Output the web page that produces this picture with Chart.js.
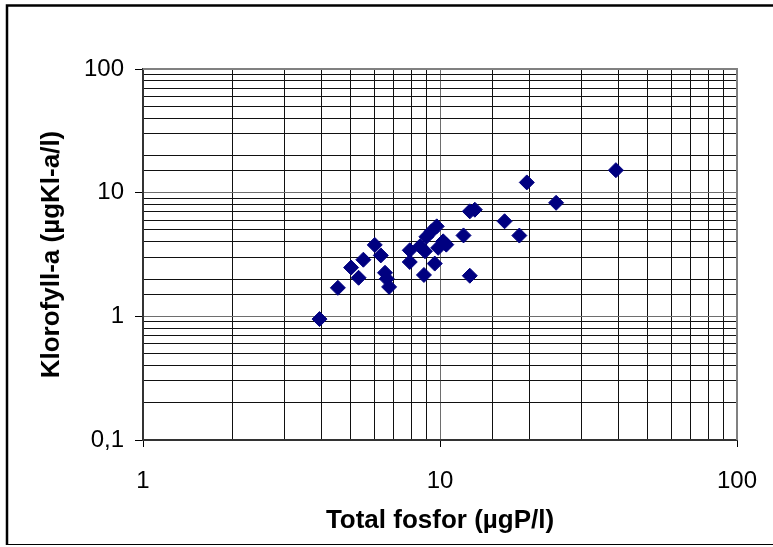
<!DOCTYPE html>
<html>
<head>
<meta charset="utf-8">
<script src="https://cdn.jsdelivr.net/npm/chart.js@4/dist/chart.umd.min.js"></script>
<style>
  body { margin: 0; background: #fff; }
</style>
</head>
<body>
<canvas id="scatterChart" width="773" height="547"></canvas>
<script>
// Total fosfor (x) og klorofyll-a (y), lest av figuren
const totalFosfor = [3.93, 4.53, 5.02, 5.32, 5.52, 6.03, 6.32, 6.53, 6.62, 6.74,
    7.91, 7.91, 8.56, 8.9, 9.0, 9.37, 9.75, 9.86, 10.25, 10.5,
    9.6, 8.83, 12.0, 12.6, 13.1, 12.6, 16.5, 18.5, 19.6, 24.6, 39.1];
const klorofyll = [0.95, 1.70, 2.48, 2.05, 2.87, 3.78, 3.11, 2.25, 2.01, 1.73,
    3.42, 2.75, 3.68, 3.36, 4.40, 4.87, 5.34, 3.58, 4.04, 3.80,
    2.67, 2.16, 4.51, 7.06, 7.28, 2.13, 5.87, 4.50, 12.1, 8.28, 15.2];
const xTickLabels = { 1: '1', 10: '10', 100: '100' };
const yTickLabels = { 0.1: '0,1', 1: '1', 10: '10', 100: '100' };

const points = totalFosfor.map((x, i) => ({ x: x, y: klorofyll[i] }));

function isPow10(v) {
    const l = Math.log10(v);
    return Math.abs(l - Math.round(l)) < 1e-9;
}
function labelFor(map, v) {
    if (!isPow10(v)) return '';
    const key = Math.pow(10, Math.round(Math.log10(v)));
    return map[key] !== undefined ? map[key] : '';
}

// ramme rundt hele figuren
const frame = {
    id: 'frame',
    afterDraw(chart) {
        const c = chart.ctx;
        c.save();
        c.strokeStyle = '#000';
        c.lineWidth = 2.5;
        c.beginPath();
        c.moveTo(7, 545); c.lineTo(7, 5.5); c.lineTo(773, 5.5);
        c.stroke();
        c.lineWidth = 1;
        c.beginPath();
        c.moveTo(7, 544.5); c.lineTo(773, 544.5);
        c.stroke();
        // topp og høyre kant av plottet
        const a = chart.chartArea;
        c.strokeStyle = '#808080';
        c.lineWidth = 2;
        c.beginPath();
        c.moveTo(a.left, a.top); c.lineTo(a.right, a.top); c.lineTo(a.right, a.bottom);
        c.stroke();
        c.restore();
    }
};

const gridColor = (ctx) => isPow10(ctx.tick.value) ? '#6e6e6e' : '#111';
const tickColor = (ctx) => isPow10(ctx.tick.value) ? '#000' : 'rgba(0,0,0,0)';

const ctx = document.getElementById('scatterChart');
new Chart(ctx, {
    type: 'scatter',
    data: {
        datasets: [{
            data: points,
            pointStyle: 'rectRot',
            pointRadius: 7.5,
            pointHoverRadius: 7.5,
            backgroundColor: '#000080',
            borderColor: '#000080',
            borderWidth: 1
        }]
    },
    options: {
        responsive: false,
        animation: false,
        layout: { padding: { left: 0, top: 69, right: 36, bottom: 0 } },
        plugins: { legend: { display: false }, tooltip: { enabled: false } },
        scales: {
            x: {
                type: 'logarithmic',
                min: 1,
                max: 100,
                afterFit: (s) => { s.height = 107; s.paddingLeft = 0; s.paddingRight = 0; },
                grid: { color: gridColor, lineWidth: 1, tickColor: tickColor, tickLength: 7 },
                border: { color: '#333', width: 2 },
                ticks: {
                    autoSkip: false,
                    maxRotation: 0,
                    color: '#000',
                    padding: 20,
                    font: { family: 'Arial, "Liberation Sans"', size: 24 },
                    callback: (v) => labelFor(xTickLabels, v)
                },
                title: {
                    display: true,
                    text: 'Total fosfor (µgP/l)',
                    color: '#000',
                    padding: { top: 0, bottom: 11 },
                    font: { family: 'Arial, "Liberation Sans"', size: 26, weight: 'bold' }
                }
            },
            y: {
                type: 'logarithmic',
                min: 0.1,
                max: 100,
                afterFit: (s) => { s.width = 143; s.paddingTop = 0; s.paddingBottom = 0; },
                grid: { color: gridColor, lineWidth: 1, tickColor: tickColor, tickLength: 8 },
                border: { color: '#333', width: 2 },
                ticks: {
                    autoSkip: false,
                    color: '#000',
                    padding: 11,
                    font: { family: 'Arial, "Liberation Sans"', size: 24 },
                    callback: (v) => labelFor(yTickLabels, v)
                },
                title: {
                    display: true,
                    text: 'Klorofyll-a (µgKl-a/l)',
                    color: '#000',
                    padding: { top: 36, bottom: 0 },
                    font: { family: 'Arial, "Liberation Sans"', size: 26, weight: 'bold' }
                }
            }
        }
    },
    plugins: [frame]
});
</script>
</body>
</html>
